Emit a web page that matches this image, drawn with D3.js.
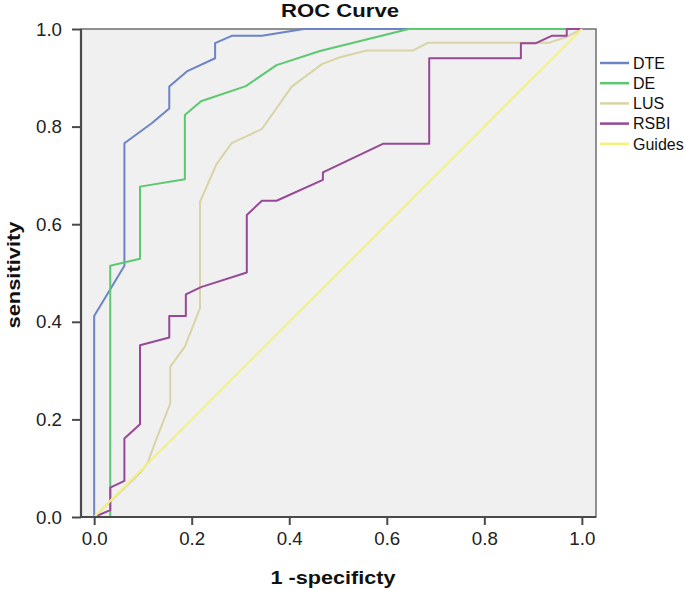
<!DOCTYPE html>
<html>
<head>
<meta charset="utf-8">
<script src="https://cdn.jsdelivr.net/npm/d3@7"></script>
<style>
  html, body { margin: 0; padding: 0; background: #ffffff; }
  svg { display: block; }
</style>
</head>
<body>
<svg id="chart"></svg>
<script>
// ROC points: [1 - specificity, sensitivity]
const dte = [
  [0, 0], [0, 0.412], [0.062, 0.515], [0.062, 0.766], [0.118, 0.807],
  [0.154, 0.837], [0.154, 0.882], [0.19, 0.913], [0.248, 0.94], [0.248, 0.971],
  [0.282, 0.986], [0.344, 0.986], [0.43, 1], [1, 1]
];
const de = [
  [0, 0], [0.033, 0], [0.033, 0.515], [0.094, 0.529], [0.094, 0.677],
  [0.186, 0.692], [0.186, 0.824], [0.219, 0.852], [0.311, 0.883], [0.374, 0.926],
  [0.463, 0.955], [0.645, 1], [1, 1]
];
const lus = [
  [0, 0], [0.094, 0.09], [0.11, 0.112], [0.127, 0.158], [0.156, 0.233],
  [0.156, 0.308], [0.186, 0.349], [0.217, 0.428], [0.217, 0.646], [0.251, 0.723],
  [0.282, 0.766], [0.344, 0.795], [0.405, 0.882], [0.467, 0.928], [0.504, 0.942],
  [0.559, 0.956], [0.654, 0.956], [0.685, 0.972], [0.934, 0.972], [0.969, 0.984],
  [1, 1]
];
const rsbi = [
  [0, 0], [0.033, 0.014], [0.033, 0.06], [0.062, 0.074], [0.062, 0.161],
  [0.094, 0.19], [0.094, 0.352], [0.154, 0.368], [0.154, 0.412], [0.188, 0.412],
  [0.188, 0.456], [0.219, 0.471], [0.313, 0.501], [0.313, 0.619], [0.344, 0.648],
  [0.374, 0.648], [0.469, 0.691], [0.469, 0.706], [0.593, 0.765], [0.687, 0.765],
  [0.687, 0.94], [0.875, 0.94], [0.875, 0.971], [0.906, 0.971], [0.938, 0.986],
  [0.969, 0.986], [0.969, 1], [1, 1]
];
const guides = [[0, 0], [1, 1]];

const seriesNames = ['DTE', 'DE', 'LUS', 'RSBI', 'Guides'];
const seriesData = [dte, de, lus, rsbi, guides];
const seriesColors = ['#6c84c6', '#5cc870', '#d8d4a6', '#974896', '#f3f27c'];
const tickValues = [0, 0.2, 0.4, 0.6, 0.8, 1.0];

const WIDTH = 685;
const HEIGHT = 590;
const PLOT_LEFT = 81;
const PLOT_RIGHT = 596;
const PLOT_TOP = 29;
const PLOT_BOTTOM = 517;
const FONT = 'Liberation Sans, Arial, sans-serif';

const svg = d3.select('#chart')
  .attr('width', WIDTH)
  .attr('height', HEIGHT)
  .attr('viewBox', `0 0 ${WIDTH} ${HEIGHT}`);

const x = d3.scaleLinear().domain([-0.027, 1.029]).range([PLOT_LEFT, PLOT_RIGHT]);
const y = d3.scaleLinear().domain([0, 1]).range([PLOT_BOTTOM, PLOT_TOP]);

// plot background + top/right frame
svg.append('rect')
  .attr('x', PLOT_LEFT)
  .attr('y', PLOT_TOP)
  .attr('width', PLOT_RIGHT - PLOT_LEFT)
  .attr('height', PLOT_BOTTOM - PLOT_TOP)
  .attr('fill', '#f0f0f0')
  .attr('stroke', '#6e6e6e')
  .attr('stroke-width', 1.5);

const line = d3.line()
  .x((d) => x(d[0]))
  .y((d) => y(d[1]));

seriesData.forEach((data, i) => {
  svg.append('path')
    .datum(data)
    .attr('d', line)
    .attr('fill', 'none')
    .attr('stroke', seriesColors[i])
    .attr('stroke-width', i === 4 ? 2.2 : 2)
    .attr('stroke-linejoin', 'round');
});

// axes
const xAxis = svg.append('g')
  .attr('transform', `translate(0, ${PLOT_BOTTOM})`)
  .call(d3.axisBottom(x).tickValues(tickValues).tickFormat(d3.format('.1f')).tickSize(8).tickSizeOuter(0));

const yAxis = svg.append('g')
  .attr('transform', `translate(${PLOT_LEFT}, 0)`)
  .call(d3.axisLeft(y).tickValues(tickValues).tickFormat(d3.format('.1f')).tickSize(9).tickSizeOuter(0));

[xAxis, yAxis].forEach((g) => {
  g.select('.domain').attr('stroke', '#4a4a4a').attr('stroke-width', 2.2);
  g.selectAll('.tick line').attr('stroke', '#4a4a4a').attr('stroke-width', 2);
  g.selectAll('.tick text')
    .attr('fill', '#222222')
    .attr('font-size', 19)
    .attr('font-family', FONT)
    .attr('textLength', 26)
    .attr('lengthAdjust', 'spacingAndGlyphs');
});
xAxis.select('.domain').attr('d', `M${PLOT_LEFT},0H${PLOT_RIGHT}`);
yAxis.select('.domain').attr('d', `M0,${PLOT_BOTTOM}V${PLOT_TOP}`);
xAxis.selectAll('.tick text').attr('dy', '0.71em').attr('y', 15);
yAxis.selectAll('.tick text').attr('x', -19);

// titles
svg.append('text')
  .attr('x', 340)
  .attr('y', 17)
  .attr('text-anchor', 'middle')
  .attr('fill', '#111111')
  .attr('font-size', 18)
  .attr('font-weight', 700)
  .attr('font-family', FONT)
  .attr('textLength', 118)
  .attr('lengthAdjust', 'spacingAndGlyphs')
  .text('ROC Curve');

svg.append('text')
  .attr('x', 333)
  .attr('y', 584)
  .attr('text-anchor', 'middle')
  .attr('fill', '#111111')
  .attr('font-size', 19)
  .attr('font-weight', 700)
  .attr('font-family', FONT)
  .attr('textLength', 125)
  .attr('lengthAdjust', 'spacingAndGlyphs')
  .text('1 -specificty');

svg.append('text')
  .attr('transform', 'translate(20, 275) rotate(-90)')
  .attr('text-anchor', 'middle')
  .attr('fill', '#111111')
  .attr('font-size', 19)
  .attr('font-weight', 700)
  .attr('font-family', FONT)
  .attr('textLength', 107)
  .attr('lengthAdjust', 'spacingAndGlyphs')
  .text('sensitivity');

// legend
const legend = svg.append('g').attr('transform', 'translate(600, 63)');
seriesNames.forEach((name, i) => {
  const rowY = i * 20.2;
  legend.append('line')
    .attr('x1', 0)
    .attr('x2', 29)
    .attr('y1', rowY)
    .attr('y2', rowY)
    .attr('stroke', seriesColors[i])
    .attr('stroke-width', 2.5);
  legend.append('text')
    .attr('x', 33)
    .attr('y', rowY)
    .attr('dy', '0.36em')
    .attr('fill', '#111111')
    .attr('font-size', 16)
    .attr('font-family', FONT)
    .text(name);
});
</script>
</body>
</html>
